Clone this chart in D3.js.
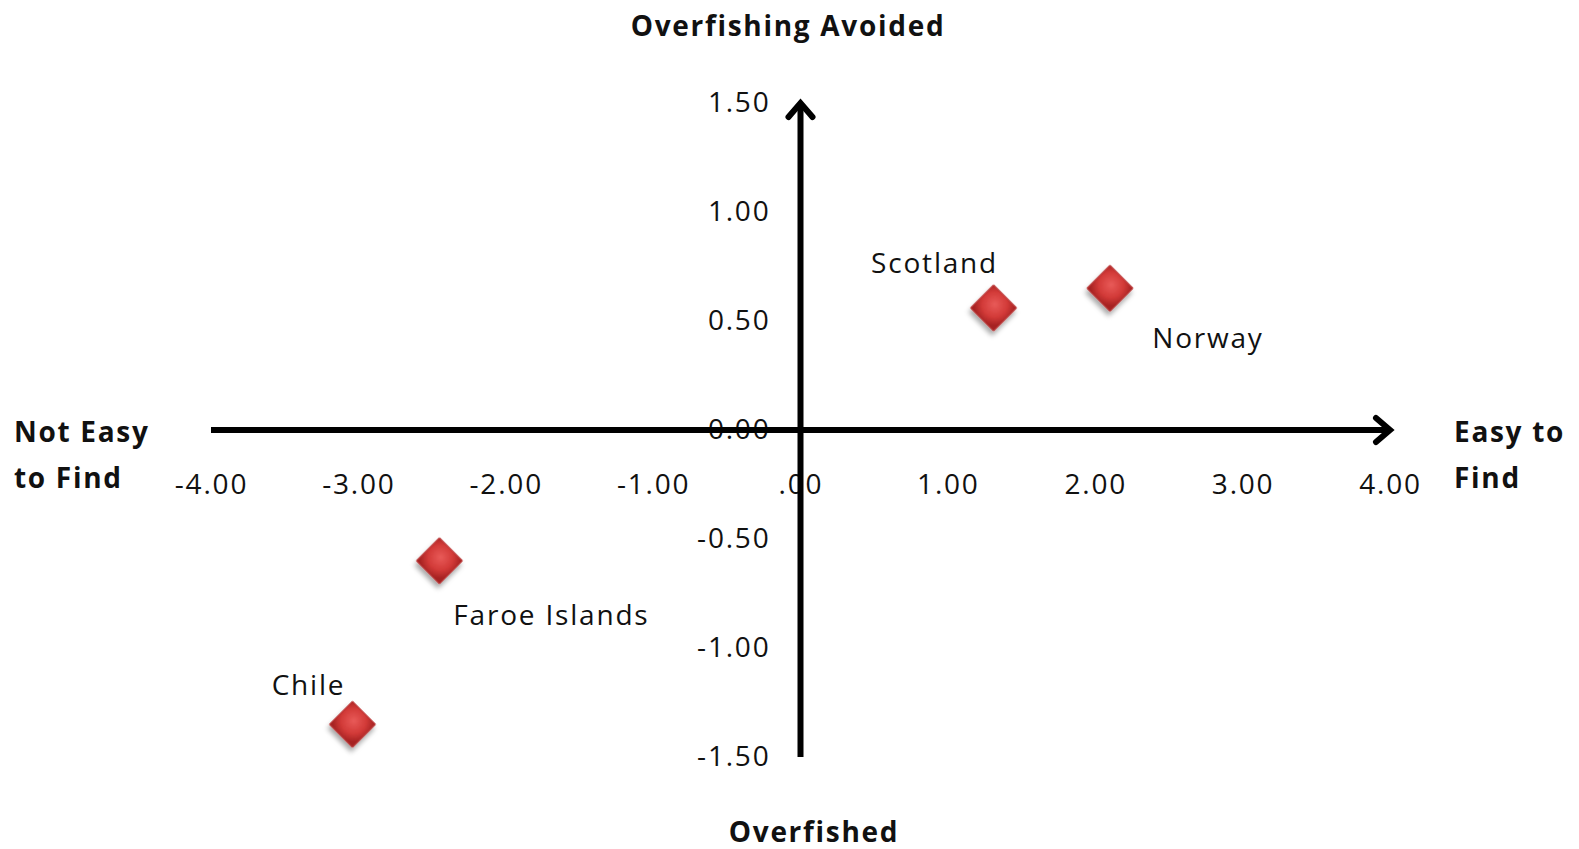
<!DOCTYPE html>
<html>
<head>
<meta charset="utf-8">
<script src="https://cdn.jsdelivr.net/npm/d3@7"></script>
<style>
  html, body { margin: 0; padding: 0; background: #fff; }
  svg { display: block; }
  text { font-family: "Open Sans", Lato, sans-serif; fill: #111; }
</style>
</head>
<body>
<svg id="chart" width="1579" height="849"></svg>
<script>
// ---- data ----
const countries = ["Scotland", "Norway", "Faroe Islands", "Chile"];
const easeOfFinding = [1.31, 2.10, -2.45, -3.04];
const overfishingScore = [0.56, 0.65, -0.60, -1.35];
const xTickValues = [-4, -3, -2, -1, 0, 1, 2, 3, 4];
const xTickLabels = ["-4.00", "-3.00", "-2.00", "-1.00", ".00", "1.00", "2.00", "3.00", "4.00"];
const yTickValues = [1.5, 1, 0.5, 0, -0.5, -1, -1.5];
const yTickLabels = ["1.50", "1.00", "0.50", "0.00", "-0.50", "-1.00", "-1.50"];
const titleTop = "Overfishing Avoided";
const titleBottom = "Overfished";
const titleLeft = ["Not Easy", "to Find"];
const titleRight = ["Easy to", "Find"];

// ---- layout ----
const svg = d3.select("#chart");
const x = d3.scaleLinear().domain([-4, 4]).range([211, 1390]);
const y = d3.scaleLinear().domain([-1.5, 1.5]).range([757, 103]);

const defs = svg.append("defs");
const grad = defs.append("radialGradient").attr("id", "redGrad")
  .attr("cx", "45%").attr("cy", "40%").attr("r", "65%");
grad.append("stop").attr("offset", "0%").attr("stop-color", "#e85a58");
grad.append("stop").attr("offset", "60%").attr("stop-color", "#d23a38");
grad.append("stop").attr("offset", "100%").attr("stop-color", "#a52222");
const shadow = defs.append("filter").attr("id", "shadow")
  .attr("x", "-50%").attr("y", "-50%").attr("width", "200%").attr("height", "200%");
shadow.append("feDropShadow").attr("dx", 2).attr("dy", 4).attr("stdDeviation", 2.5)
  .attr("flood-color", "#000").attr("flood-opacity", 0.35);

// ---- axes (through origin) ----
const xAxis = d3.axisBottom(x).tickValues(xTickValues)
  .tickFormat((d, i) => xTickLabels[i]).tickSize(0).tickPadding(44);
const gx = svg.append("g").attr("transform", `translate(0,${y(0)})`).call(xAxis);
gx.select(".domain").remove();
gx.selectAll("text").style("font-size", "28px").style("font-family", "'Open Sans', sans-serif")
  .style("letter-spacing", "1.8px").attr("fill", "#111");

const yAxis = d3.axisLeft(y).tickValues(yTickValues)
  .tickFormat((d, i) => yTickLabels[i]).tickSize(0).tickPadding(30);
const gy = svg.append("g").attr("transform", `translate(${x(0)},0)`).call(yAxis);
gy.select(".domain").remove();
gy.selectAll("text").style("font-size", "28px").style("font-family", "'Open Sans', sans-serif")
  .style("letter-spacing", "1.8px").attr("fill", "#111");

// axis lines with arrowheads
const axes = svg.append("g").attr("stroke", "#000").attr("stroke-width", 6).attr("fill", "none");
axes.append("line").attr("x1", x(-4)).attr("x2", x(4) - 3).attr("y1", y(0)).attr("y2", y(0));
axes.append("line").attr("x1", x(0)).attr("x2", x(0)).attr("y1", y(-1.5)).attr("y2", y(1.5) + 3);
axes.append("path").attr("stroke-linejoin", "miter").attr("stroke-linecap", "round")
  .attr("d", `M${x(4) - 14},${y(0) - 12} L${x(4)},${y(0)} L${x(4) - 14},${y(0) + 12}`);
axes.append("path").attr("stroke-linejoin", "miter").attr("stroke-linecap", "round")
  .attr("d", `M${x(0) - 12},${y(1.5) + 14} L${x(0)},${y(1.5)} L${x(0) + 12},${y(1.5) + 14}`);

// ---- points ----
const pts = countries.map((c, i) => ({ name: c, x: easeOfFinding[i], y: overfishingScore[i] }));
const diamond = d3.symbol().type(d3.symbolSquare).size(1050);
svg.append("g").selectAll("path").data(pts).join("path")
  .attr("d", diamond)
  .attr("transform", d => `translate(${x(d.x)},${y(d.y)}) rotate(45)`)
  .attr("fill", "url(#redGrad)")
  .attr("stroke", "#b83030").attr("stroke-width", 1)
  .attr("filter", "url(#shadow)");

// data labels
const labelOffset = {
  "Scotland": [-59, -46],
  "Norway": [98, 49],
  "Faroe Islands": [112, 53],
  "Chile": [-44, -40]
};
svg.append("g").selectAll("text").data(pts).join("text")
  .attr("x", d => x(d.x) + labelOffset[d.name][0])
  .attr("y", d => y(d.y) + labelOffset[d.name][1])
  .attr("text-anchor", "middle").attr("dominant-baseline", "central")
  .style("font-size", "28px").style("letter-spacing", "1.8px")
  .text(d => d.name);

// ---- titles ----
const titles = svg.append("g").style("font-size", "28px").style("font-weight", "bold")
  .style("letter-spacing", "1.7px");
titles.append("text").attr("x", 788).attr("y", 25).attr("text-anchor", "middle")
  .attr("dominant-baseline", "central").text(titleTop);
titles.append("text").attr("x", 814).attr("y", 831).attr("text-anchor", "middle")
  .attr("dominant-baseline", "central").text(titleBottom);
titleLeft.forEach((t, i) => titles.append("text").attr("x", 14).attr("y", 431 + i * 46)
  .attr("dominant-baseline", "central").text(t));
titleRight.forEach((t, i) => titles.append("text").attr("x", 1454).attr("y", 431 + i * 46)
  .attr("dominant-baseline", "central").text(t));
</script>
</body>
</html>
